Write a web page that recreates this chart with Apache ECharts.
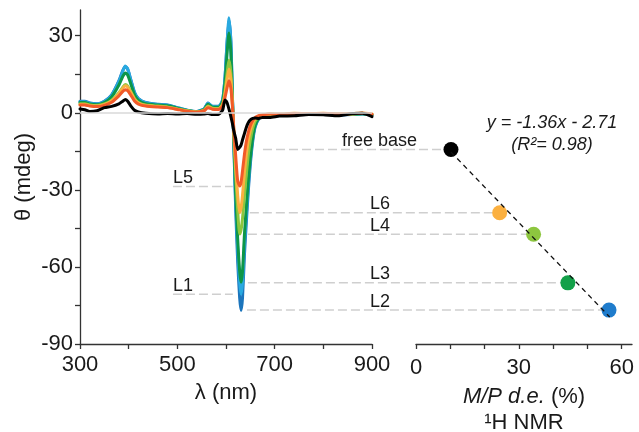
<!DOCTYPE html>
<html><head><meta charset="utf-8">
<script src="https://cdn.jsdelivr.net/npm/echarts@6/dist/echarts.min.js"></script>
<style>html,body{margin:0;padding:0;background:#fff}#c{width:639px;height:432px}</style>
</head><body><div id="c"></div>
<script>
// ---------- data ----------
const wavelengths = [300,310,320,335,350,365,380,388,393,398,405,412,420,435,460,480,500,520,540,555,563,572,585,593,598,602,606,610,613,616,620,624,628,631,634,638,642,646,650,655,660,667,675,690,710,740,770,800,830,860,880,900];

const cdL2 = [4.5,4.5,3.8,3.5,4.5, 7,12.5,16.5,18,17, 12.5,8,5.5,4,3.3, 3,2,1,0.5,1.5, 3.8,2.5,2.5,5,14, 27,36,28,8,-12, -38,-58,-72,-77,-72, -55,-42,-30,-20,-11, -5.5,-2.5,-1.2,-0.8,-0.9, -0.6,-0.7,-0.5,-0.9,-0.7, -0.5,-1];
const cdL1 = [4.3,4.3,3.7,3.4,4.4, 6.8,12.2,16.2,18.2,17, 12.3,7.8,5.4,3.9,3.2, 2.9,2,1,0.5,1.5, 3.7,2.5,2.4,4.9,13.8, 26.5,37,27.5,7.5,-11, -35,-53,-66,-70.6,-66, -51,-39,-28,-18.5,-10, -5,-2.3,-1.1,-0.8,-0.8, -0.5,-0.6,-0.4,-0.8,-0.6, -0.4,-0.9];
const cdL3 = [4,4,3.4,3.1,4, 6.2,10.8,14.2,15.5,14.7, 10.9,7,4.8,3.5,3, 2.7,1.8,0.9,0.4,1.3, 3.3,2.2,2.1,4.3,11.8, 22.5,31,23.5,6.5,-10, -32,-49,-61.5,-66,-61.5, -47,-36,-26,-17.5,-9.5, -4.8,-2.2,-1.1,-0.7,-0.8, -0.5,-0.6,-0.4,-0.7,-0.6, -0.4,-0.8];
const cdL4 = [3.5,3.5,3,2.8,3.4, 4.8,7.8,10,11,10.4, 8,5.5,4,3,2.6, 2.3,1.5,0.8,0.3,1, 2.6,1.8,1.7,3.4,8.5, 15,20.5,15.5,4.5,-8, -24,-38,-47.2,-45.5,-41, -32,-23.5,-16,-10.5,-6, -3.2,-1.7,-1,-0.6,-0.7, -0.4,-0.5,-0.3,-0.6,-0.5, -0.3,-0.7];
const cdL6 = [3.2,3.2,2.8,2.6,3.2, 4.6,7.5,9.6,10.5,10, 7.7,5.2,3.8,2.8,2.4, 2.1,1.4,0.7,0.3,0.9, 2.3,1.6,1.5,3,7.3, 12.5,17,13,4,-7, -21,-32,-38.9,-37,-32, -23,-16,-10.5,-7,-4, -2.2,-1.3,-0.9,-0.4,-0.5, -0.2,-0.3,-0.2,-0.4,-0.3, -0.1,-0.5];
const cdL5 = [3,3,2.6,2.4,2.9, 4.1,6.6,8.3,9,8.6, 6.7,4.6,3.4,2.6,2.2, 2,1.3,0.6,0.2,0.8, 2,1.4,1.3,2.6,6, 9.5,12.5,9.5,3,-6, -17,-26.5,-28.5,-27,-22.5, -16,-11,-7.5,-5,-3, -1.8,-1.1,-0.8,-0.5,-0.6, -0.3,-0.4,-0.3,-0.5,-0.4, -0.2,-0.6];
const cdFree = [1.5,1.2,0.5,0.8,2, 2.5,3.5,4.5,5.2,4.5, 2.5,1,0.3,-0.2,-0.5, -0.3,-0.5,-0.3,-0.6,-0.5, -0.3,-0.7,-0.6,1,5, 4,1.5,-1.5,-4,-7, -10,-14.3,-13.5,-12.5,-10.5, -8,-5.5,-3.8,-2.8,-2.2, -2,-2.2,-1.8,-1.8,-1.3, -1.2,-0.7,-0.8,-1.2,-0.3, -0.2,-1.5];

const curveNames = ['L2','L1','L3','L4','L6','L5','free base'];
const curveValues = [cdL2, cdL1, cdL3, cdL4, cdL6, cdL5, cdFree];

// scatter (right panel)
const pointNames = ['free base','L6','L4','L3','L2'];
const deValues = [10.2, 24.4, 34.3, 44.3, 56.3];
const thetaMinValues = [-14.3, -38.9, -47.3, -66.2, -76.8];
// where each connector leaves the spectra (nm)
const connectorStartNm = [676, 649, 645, 645, 643];

// connectors only inside the spectra panel
const sideNames = ['L5','L1'];
const sideValues = [-28.7, -70.6];
const sideFromNm = [491, 491];
const sideToNm = [614, 614];

// fitted line end points
const fitX = [10.2, 56.5];
const fitY = [-15.3, -79.5];

const xTicksLeft = [300,400,500,600,700,800,900];
const xLabelsLeft = [300,500,700,900];
const yTicks = [-90,-75,-60,-45,-30,-15,0,15,30];
const yLabels = [-90,-60,-30,0,30];
const xTicksRight = [0,10,20,30,40,50,60];
const xLabelsRight = [0,30,60];

// ---------- styles ----------
const FONT = '"Liberation Sans", Arial, Helvetica, sans-serif';
const curveColors = ['#1c75bc','#29a9e0','#0d9648','#8dc63f','#fbb040','#f15a29','#000000'];
const pointColors = ['#000000','#fbb040','#8dc63f','#13a049','#1f7ccc'];
const axisCol = '#333';
const txtCol = '#1a1a1a';

const chart = echarts.init(document.getElementById('c'), null, {renderer:'canvas'});

const series = curveNames.map((n, i) => ({
  name: n, type: 'line', xAxisIndex: 0, yAxisIndex: 0,
  data: wavelengths.map((w, k) => [w, curveValues[i][k]]),
  showSymbol: false, smooth: 0.2,
  lineStyle: {color: curveColors[i], width: 3, join: 'round', cap: 'round'},
  z: 2 + i * 0.01,
  markLine: i === 0 ? {silent: true, symbol: 'none', label: {show: false},
    lineStyle: {color: '#d8d8d8', width: 1.5, type: 'solid'}, data: [{yAxis: 0}]} : undefined
}));

sideNames.forEach((n, i) => {
  series.push({type: 'line', xAxisIndex: 0, yAxisIndex: 0, z: 1,
    data: [[sideFromNm[i], sideValues[i]], [sideToNm[i], sideValues[i]]],
    showSymbol: false, lineStyle: {color: '#cfcfcf', width: 1.5, type: [9, 4]}});
});

series.push({type: 'scatter', xAxisIndex: 1, yAxisIndex: 1, symbolSize: 15, z: 3,
  data: deValues.map((d, i) => ({value: [d, thetaMinValues[i]], itemStyle: {color: pointColors[i], opacity: 1}}))});
series.push({type: 'line', xAxisIndex: 1, yAxisIndex: 1, z: 4, showSymbol: false,
  data: fitX.map((x, i) => [x, fitY[i]]),
  lineStyle: {color: '#111', width: 1.3, type: [5, 4]}});

const axLine = {onZero: false, lineStyle: {color: axisCol, width: 1.3}};
const axTick = {length: 5, lineStyle: {color: axisCol, width: 1.3}};

const option = {
  animation: false,
  backgroundColor: '#fff',
  grid: [
    {left: 80, right: 267, top: 10, bottom: 88, outerBoundsMode: 'none', containLabel: false},
    {left: 416, right: 7, top: 10, bottom: 88, outerBoundsMode: 'none', containLabel: false}
  ],
  xAxis: [
    {type: 'value', gridIndex: 0, min: 300, max: 900, interval: 100, position: 'bottom',
     axisLine: axLine, axisTick: Object.assign({customValues: xTicksLeft}, axTick),
     axisLabel: {customValues: xLabelsLeft, fontSize: 22, color: txtCol, margin: 10, fontFamily: FONT},
     splitLine: {show: false},
     name: 'λ (nm)', nameLocation: 'middle', nameGap: 38,
     nameTextStyle: {fontSize: 22, color: txtCol, fontFamily: FONT}},
    {type: 'value', gridIndex: 1, min: 0, max: 63, position: 'bottom',
     axisLine: axLine, axisTick: Object.assign({customValues: xTicksRight}, axTick),
     axisLabel: {customValues: xLabelsRight, fontSize: 22, color: txtCol, margin: 13, fontFamily: FONT},
     splitLine: {show: false},
     name: '{i|M/P d.e.} (%)\n¹H NMR', nameLocation: 'middle', nameGap: 40,
     nameTextStyle: {fontSize: 22, lineHeight: 26, color: txtCol, fontFamily: FONT, align: 'center',
       rich: {i: {fontStyle: 'italic', fontSize: 22, color: txtCol, fontFamily: FONT}}}}
  ],
  yAxis: [
    {type: 'value', gridIndex: 0, min: -90, max: 40,
     axisLine: {show: true, onZero: false, lineStyle: {color: axisCol, width: 1.3}},
     axisTick: Object.assign({show: true, customValues: yTicks}, axTick),
     axisLabel: {customValues: yLabels, fontSize: 22, color: txtCol, margin: 7, fontFamily: FONT},
     splitLine: {show: false},
     name: 'θ (mdeg)', nameLocation: 'middle', nameGap: 45,
     nameTextStyle: {fontSize: 22, color: txtCol, fontFamily: FONT}},
    {type: 'value', gridIndex: 1, min: -90, max: 40,
     axisLine: {show: false, onZero: false}, axisTick: {show: false}, axisLabel: {show: false},
     splitLine: {show: false}}
  ],
  series: series
};
chart.setOption(option);

// connectors across both panels + annotation texts
const graphics = [];
pointNames.forEach((n, i) => {
  const p1 = chart.convertToPixel({gridIndex: 0}, [connectorStartNm[i], thetaMinValues[i]]);
  const p2 = chart.convertToPixel({gridIndex: 1}, [deValues[i], thetaMinValues[i]]);
  graphics.push({type: 'line', z: 1, silent: true,
    shape: {x1: p1[0], y1: p1[1], x2: p2[0], y2: p2[1]},
    style: {stroke: '#cfcfcf', lineWidth: 1.5, lineDash: [9, 4]}});
  if (i === 0) {
    const px = chart.convertToPixel({gridIndex: 1}, [0, thetaMinValues[i]]);
    graphics.push({type: 'text', z: 5, x: px[0] + 1, y: px[1] - 8.5,
      style: {text: n, fill: txtCol, font: '18px ' + FONT, textAlign: 'right', textVerticalAlign: 'middle'}});
  } else {
    const px = chart.convertToPixel({gridIndex: 0}, [896, thetaMinValues[i]]);
    graphics.push({type: 'text', z: 5, x: px[0], y: px[1] - 8.5,
      style: {text: n, fill: txtCol, font: '18px ' + FONT, textAlign: 'left', textVerticalAlign: 'middle'}});
  }
});
sideNames.forEach((n, i) => {
  const px = chart.convertToPixel({gridIndex: 0}, [sideFromNm[i], sideValues[i]]);
  graphics.push({type: 'text', z: 5, x: px[0], y: px[1] - 8,
    style: {text: n, fill: txtCol, font: '18px ' + FONT, textAlign: 'left', textVerticalAlign: 'middle'}});
});
graphics.push({type: 'text', z: 5, x: 552, y: 123,
  style: {text: 'y = -1.36x - 2.71', fill: txtCol, font: 'italic 18px ' + FONT, textAlign: 'center', textVerticalAlign: 'middle'}});
graphics.push({type: 'text', z: 5, x: 552, y: 145,
  style: {text: '(R²= 0.98)', fill: txtCol, font: 'italic 18px ' + FONT, textAlign: 'center', textVerticalAlign: 'middle'}});
chart.setOption({graphic: graphics});
</script>
</body></html>
